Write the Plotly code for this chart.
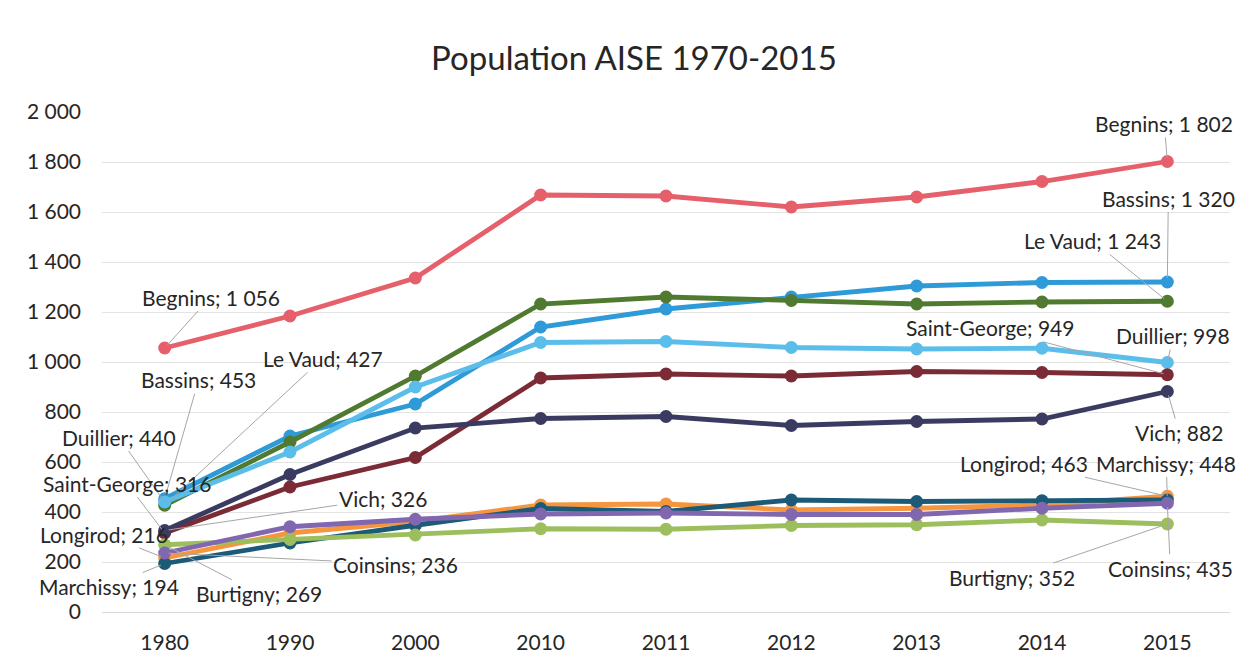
import plotly.graph_objects as go

years = ["1980", "1990", "2000", "2010", "2011", "2012", "2013", "2014", "2015"]

begnins = [1056, 1184, 1336, 1668, 1664, 1620, 1660, 1722, 1802]
bassins = [453, 704, 832, 1140, 1212, 1260, 1304, 1318, 1320]
le_vaud = [427, 680, 944, 1232, 1260, 1246, 1232, 1240, 1243]
duillier = [440, 640, 900, 1078, 1082, 1058, 1052, 1055, 998]
saint_george = [316, 500, 618, 936, 952, 944, 962, 958, 949]
vich = [326, 550, 736, 774, 782, 746, 762, 772, 882]
longirod = [216, 316, 362, 428, 432, 408, 415, 428, 463]
marchissy = [194, 276, 347, 414, 402, 448, 442, 445, 448]
burtigny = [269, 290, 308, 333, 331, 346, 349, 368, 352]
coinsins = [236, 341, 371, 392, 396, 390, 390, 415, 435]

y_ticks = [0, 200, 400, 600, 800, 1000, 1200, 1400, 1600, 1800, 2000]

series = [
    ("Begnins", begnins, "#E5606B"),
    ("Bassins", bassins, "#2E9AD8"),
    ("Le Vaud", le_vaud, "#4F7A30"),
    ("Duillier", duillier, "#5BBDEA"),
    ("Saint-George", saint_george, "#7A2B36"),
    ("Vich", vich, "#3B3B62"),
    ("Longirod", longirod, "#F5963E"),
    ("Marchissy", marchissy, "#1C5A78"),
    ("Burtigny", burtigny, "#9CBE5C"),
    ("Coinsins", coinsins, "#8167B0"),
]

# label offsets (pixels) for first and last point
first_off = {
    "Begnins": (46, -51), "Bassins": (34, -119), "Le Vaud": (158, -147),
    "Duillier": (-46, -65), "Saint-George": (-38, -50), "Vich": (218, -32),
    "Longirod": (-61, -24), "Coinsins": (231, 11), "Marchissy": (-56, 23),
    "Burtigny": (94, 49),
}
last_off = {
    "Begnins": (-3, -38), "Bassins": (1, -84), "Le Vaud": (-75, -61),
    "Saint-George": (-177, -47), "Duillier": (6, -27), "Vich": (12, 41),
    "Longirod": (-143, -33), "Marchissy": (-1, -37), "Burtigny": (-155, 53),
    "Coinsins": (3, 65),
}

FONT = "Lato, 'Liberation Sans', sans-serif"

def fmt(v):
    return f"{v:,}".replace(",", " ")

xpos = list(range(len(years)))

fig = go.Figure()
for name, vals, col in series:
    fig.add_trace(go.Scatter(
        x=xpos, y=vals, name=name, mode="lines+markers",
        line=dict(color=col, width=4.8),
        marker=dict(color=col, size=13),
    ))

anns = []
for name, vals, col in series:
    for idx, offs in ((0, first_off), (len(years) - 1, last_off)):
        ax, ay = offs[name]
        anns.append(dict(
            x=xpos[idx], y=vals[idx], xref="x", yref="y",
            text=f"{name}; {fmt(vals[idx])}",
            showarrow=True, arrowhead=0, arrowwidth=1, arrowcolor="#A6A6A6",
            ax=ax, ay=ay, standoff=4,
            font=dict(family=FONT, size=21, color="#262626"),
        ))

fig.update_layout(
    width=1242, height=658,
    paper_bgcolor="white", plot_bgcolor="white",
    margin=dict(l=94, r=20, t=104, b=54),
    showlegend=False,
    title=dict(text="Population AISE 1970-2015", x=0.504, xanchor="center",
               y=0.924, yanchor="middle",
               font=dict(family=FONT, size=33, color="#262626")),
    annotations=anns,
    font=dict(family=FONT, size=21, color="#262626"),
)
fig.update_xaxes(range=[-0.5, len(years) - 0.5], tickvals=xpos, ticktext=years,
                 showgrid=False, showline=True, linecolor="#D9D9D9", zeroline=False,
                 linewidth=1, ticks="", ticklabelstandoff=12, automargin=False,
                 tickfont=dict(family=FONT, size=21, color="#262626"))
fig.update_yaxes(range=[0, 2000], tickvals=y_ticks, ticktext=[fmt(v) for v in y_ticks],
                 showgrid=True, automargin=False,
                 gridcolor="#E3E3E3", gridwidth=1, zeroline=False, showline=False,
                 ticklabelstandoff=20,
                 tickfont=dict(family=FONT, size=21, color="#262626"))

fig.write_html("out.html")
